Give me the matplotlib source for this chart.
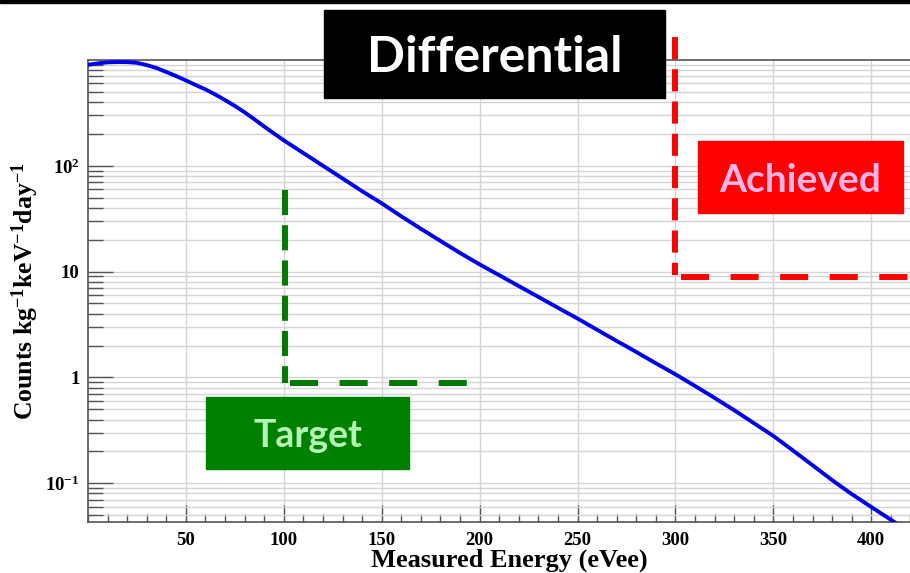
import numpy as np
import matplotlib.pyplot as plt
from matplotlib.patches import Rectangle
from matplotlib.ticker import FixedLocator, LogLocator, MultipleLocator, NullFormatter

plt.rcParams["font.family"] = "Liberation Serif"
plt.rcParams["font.weight"] = "bold"
plt.rcParams["axes.labelweight"] = "bold"
plt.rcParams["mathtext.fontset"] = "custom"
plt.rcParams["mathtext.rm"] = "Liberation Serif:bold"
plt.rcParams["mathtext.bf"] = "Liberation Serif:bold"
plt.rcParams["mathtext.default"] = "bf"

# --- data ---
energy = [0, 5, 10, 15, 20, 25, 30, 35, 40, 45, 50, 55, 60, 65, 70, 75, 80,
          85, 90, 95, 100, 110, 120, 130, 140, 150, 160, 170, 180, 190, 200,
          210, 220, 230, 240, 250, 260, 270, 280, 290, 300, 310, 320, 330,
          340, 350, 360, 370, 380, 390, 400, 410, 416]
counts = [900, 930, 950, 957, 955, 940, 895, 840, 770, 705, 641, 580, 527,
          472, 418, 368, 320, 275, 235, 202, 174, 132, 100, 75.9, 57.5, 44.2,
          33.3, 25.4, 19.5, 15.0, 11.7, 9.25, 7.3, 5.77, 4.55, 3.6, 2.82,
          2.21, 1.74, 1.36, 1.07, 0.83, 0.64, 0.49, 0.37, 0.28, 0.204, 0.148,
          0.107, 0.079, 0.0596, 0.0452, 0.038]

target_x = [100.5, 100.5]
target_y = [59, 0.88]
target_hx = [103, 195]
target_hy = [0.885, 0.885]

achieved_x = [300, 300]
achieved_y = [1650, 9.2]
achieved_hx = [303, 430]
achieved_hy = [8.8, 8.8]

ytick_vals = [0.1, 1, 10, 100]
ytick_labels = ["10$^{-1}$", "1", "10", "10$^{2}$"]
xtick_vals = [50, 100, 150, 200, 250, 300, 350, 400]

fig = plt.figure(figsize=(9.1, 5.73), dpi=100)
ax = fig.add_axes([88 / 910, 51 / 573, 842 / 910, 462 / 573])

ax.set_yscale("log")
ax.set_xlim(0, 430)
ax.set_ylim(0.043, 1000)

# grid
ax.yaxis.set_major_locator(FixedLocator(ytick_vals))
ax.yaxis.set_minor_locator(LogLocator(base=10, subs=np.arange(2, 10)))
ax.yaxis.set_minor_formatter(NullFormatter())
ax.set_yticklabels(ytick_labels)
ax.set_xticks(xtick_vals)
ax.xaxis.set_minor_locator(MultipleLocator(10))
ax.grid(True, which="both", axis="y", color="#d4d4d4", lw=1)
ax.grid(True, which="major", axis="x", color="#d4d4d4", lw=1)
ax.set_axisbelow(True)

ax.tick_params(axis="both", which="both", direction="in", color="#555555",
               labelsize=13.5, top=False, right=False)
ax.tick_params(axis="y", which="major", length=18, width=1, pad=6)
ax.tick_params(axis="y", which="minor", length=11, width=1)
ax.tick_params(axis="x", which="major", length=12, width=1, pad=7)
ax.tick_params(axis="x", which="minor", length=6, width=1)

for side in ["left", "bottom", "top"]:
    ax.spines[side].set_color("#555555")
    ax.spines[side].set_linewidth(1.2)
ax.spines["right"].set_visible(False)

# curve
ax.plot(energy, counts, color="#0000ee", lw=2.8, solid_capstyle="round",
        solid_joinstyle="round", zorder=4)

# target / achieved lines
ax.plot(target_x, target_y, color="#007a00", lw=4.3, dashes=(4.2, 1.7),
        dash_capstyle="butt", zorder=3)
ax.plot(target_hx, target_hy, color="#007a00", lw=4.3, dashes=(4.7, 3.6),
        dash_capstyle="butt", zorder=3)
ax.plot(achieved_x, achieved_y, color="#ff0000", lw=4.3, dashes=(3.7, 1.7),
        dash_capstyle="butt", zorder=3, clip_on=False)
ax.plot(achieved_hx, achieved_hy, color="#ff0000", lw=4.3, dashes=(4.7, 3.6),
        dash_capstyle="butt", zorder=3)

ax.set_ylabel("Counts kg$^{-1}$keV$^{-1}$day$^{-1}$", fontsize=18.5, labelpad=3)
ax.set_xlabel("Measured Energy (eVee)", fontsize=19, labelpad=0)

# top bar
fig.patches.append(Rectangle((0, 1 - 3 / 573), 1, 3 / 573, transform=fig.transFigure,
                             color="black", zorder=5))

# label boxes
boxes = [
    ("Differential", 324, 10, 341, 88, "black", "white", 36),
    ("Achieved", 698, 141, 205, 72, "#ff0000", "#ffb3e6", 28),
    ("Target", 206, 397, 203, 72, "#008000", "#b3f5b3", 27),
]
for text, px, py, pw, ph, fc, tc, fs in boxes:
    x0 = px / 910
    y0 = 1 - (py + ph) / 573
    fig.patches.append(Rectangle((x0, y0), pw / 910, ph / 573,
                                 transform=fig.transFigure, color=fc, zorder=5))
    fig.text(x0 + pw / 910 / 2, y0 + ph / 573 / 2, text, color=tc, fontsize=fs,
             family="Lato", weight="bold", ha="center", va="center_baseline", zorder=6)

fig.savefig("out.png", dpi=100)
